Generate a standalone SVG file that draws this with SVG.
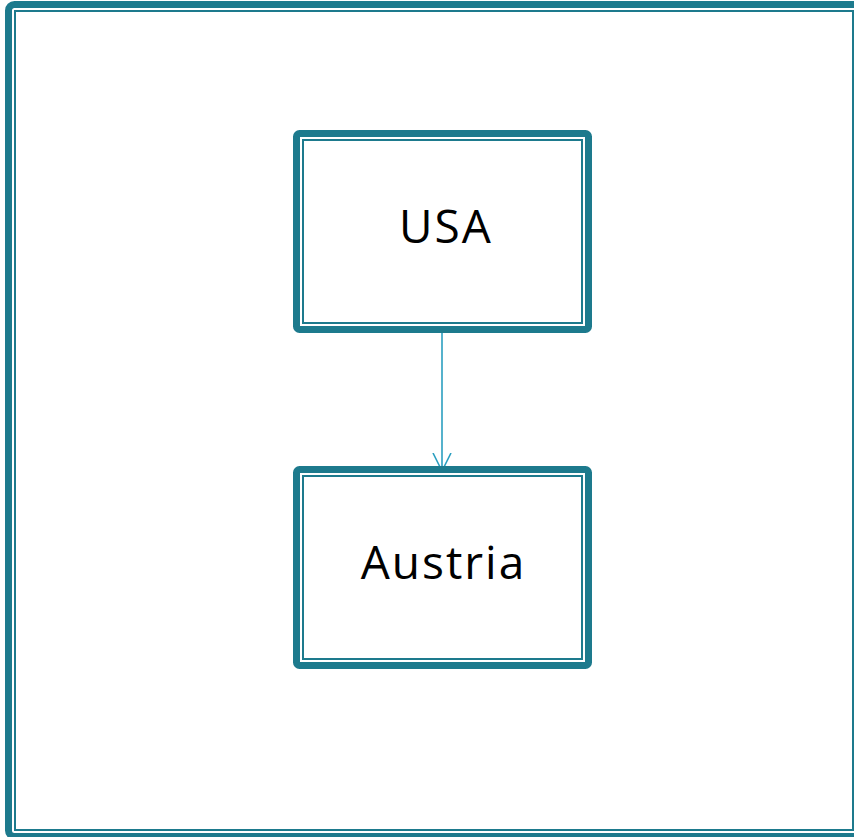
<svg xmlns="http://www.w3.org/2000/svg" width="854" height="837" viewBox="0 0 854 837">
<defs>
<style>
.thick{fill:none;stroke:#1d7a8d;stroke-width:7}
.thin{fill:none;stroke:#1d7a8d;stroke-width:2}
.lbl{font-family:"Open Sans","DejaVu Sans",sans-serif;font-size:46px;fill:#000;text-anchor:middle;letter-spacing:2px}
.conn{fill:none;stroke:#2b9fc0;stroke-width:1.6}
</style>
<marker id="arr" viewBox="0 0 20 20" refX="18" refY="10" markerWidth="20" markerHeight="20" markerUnits="userSpaceOnUse" orient="auto">
<path d="M0,1 L18,10 L0,19" fill="none" stroke="#2b9fc0" stroke-width="1.6"/>
</marker>
</defs>
<rect width="854" height="837" fill="#fff"/>
<g id="frame">
<rect class="thick" x="8.5" y="4.5" width="860" height="832" rx="6"/>
<rect class="thin" x="15" y="11" width="838" height="819"/>
</g>
<g id="connectors">
<path class="conn" d="M442,330 L442,471" marker-end="url(#arr)"/>
</g>
<g id="node-usa">
<rect class="thick" x="296.5" y="133.5" width="292" height="196" rx="3"/>
<rect class="thin" x="303" y="140" width="279" height="183"/>
<text class="lbl" x="446" y="243">USA</text>
</g>
<g id="node-austria">
<rect class="thick" x="296.5" y="469.5" width="292" height="196" rx="3"/>
<rect class="thin" x="303" y="476" width="279" height="183"/>
<text class="lbl" x="443.5" y="579">Austria</text>
</g>
</svg>
